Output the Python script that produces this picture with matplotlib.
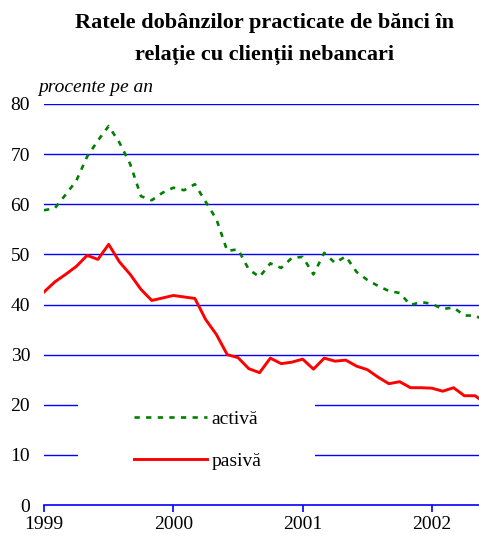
import matplotlib
matplotlib.use('Agg')
import matplotlib.pyplot as plt
from matplotlib.patches import Rectangle

# monthly interest rates, Jan 1999 - Jun 2002 (percent per year)
activa = [58.8, 59.2, 61.9, 64.7, 69.5, 72.7, 75.6, 72.3, 68.0, 61.6,
          60.8, 62.3, 63.3, 62.8, 64.0, 60.5, 57.0, 50.7, 51.0, 47.0,
          45.5, 48.2, 47.3, 49.3, 49.5, 46.0, 50.3, 48.3, 49.6, 46.5,
          44.9, 43.7, 42.7, 42.3, 39.9, 40.5, 40.1, 39.1, 39.4, 37.8,
          37.8, 36.7]
pasiva = [42.5, 44.5, 46.0, 47.6, 49.8, 49.0, 52.0, 48.5, 46.0, 43.0,
          40.8, 41.3, 41.8, 41.5, 41.2, 37.0, 34.0, 30.0, 29.4, 27.2,
          26.4, 29.3, 28.2, 28.5, 29.1, 27.1, 29.3, 28.7, 28.9, 27.7,
          27.0, 25.5, 24.2, 24.6, 23.4, 23.4, 23.3, 22.7, 23.4, 21.8,
          21.8, 20.2]
years = ['1999', '2000', '2001', '2002']

plt.rcParams['font.family'] = 'Liberation Serif'
fs = 14

fig = plt.figure(figsize=(4.79, 5.37), dpi=100)
ax = fig.add_axes([44/479, 1-505/537, 1-44/479, (505-104)/537])

months = list(range(len(activa)))
ax.plot(months, activa, color='#008000', lw=1.9, dashes=(2.0, 2.4),
        label='activă', zorder=3)
ax.plot(months, pasiva, color='#ff0000', lw=2.1, label='pasivă', zorder=3)

ax.set_xlim(0, 40.36)
ax.set_ylim(0, 80)
ax.set_yticks(range(0, 81, 10))
ax.set_xticks([0, 12, 24, 36])
ax.set_xticklabels(years)
for y in range(10, 81, 10):
    ax.axhline(y, color='#0000ff', lw=1.0, zorder=1)

for s in ['left', 'right', 'top']:
    ax.spines[s].set_visible(False)
ax.spines['bottom'].set_color('#0000ff')
ax.spines['bottom'].set_linewidth(1.2)
ax.tick_params(axis='x', colors='#0000ff', length=5, width=1.2,
               labelcolor='black', labelsize=fs, pad=3)
ax.tick_params(axis='y', length=0, labelsize=fs, pad=10)

# white box behind the legend
ax.add_patch(Rectangle((34/435, 0.06), (315-78)/435, 0.26, transform=ax.transAxes,
                       facecolor='white', edgecolor='none', zorder=2))
leg = ax.legend(loc='upper left', bbox_to_anchor=(0.19, 0.255), frameon=False,
                handlelength=3.75, handletextpad=0.2, labelspacing=1.25,
                fontsize=fs, borderaxespad=0)
leg.set_zorder(4)

ax.text(-0.014, 1.02, 'procente pe an', transform=ax.transAxes,
        fontsize=fs, fontstyle='italic', ha='left', va='bottom')

fig.text(0.553, 0.975, 'Ratele dobânzilor practicate de bănci în\nrelație cu clienții nebancari',
         ha='center', va='top', fontsize=16, fontweight='bold', linespacing=1.75)

fig.savefig('out.png', dpi=100)
